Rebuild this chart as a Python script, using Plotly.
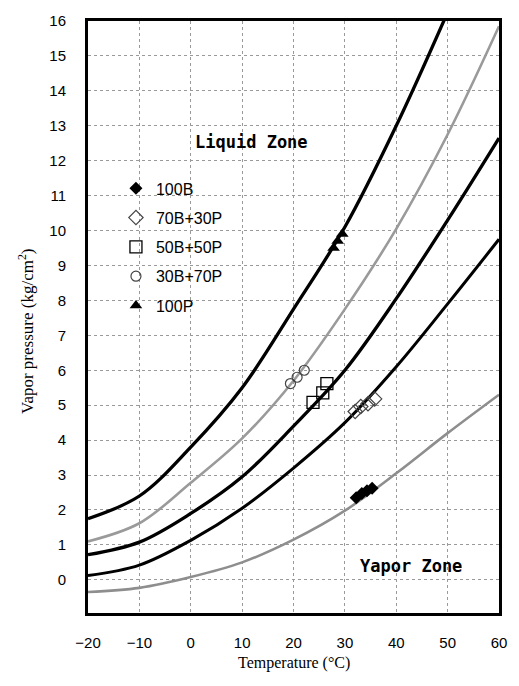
import plotly.graph_objects as go

# ---- data ----
temps = [-20, -10, 0, 10, 20, 30, 40, 50, 60]
p_100P = [1.75, 2.4, 3.8, 5.5, 7.75, 10.1, 13.0, 16.25, None]
p_30B70P = [1.1, 1.62, 2.78, 4.05, 5.7, 7.75, 10.05, 12.75, 15.85]
p_50B50P = [0.72, 1.08, 1.9, 2.95, 4.4, 6.0, 8.05, 10.3, 12.65]
p_70B30P = [0.12, 0.42, 1.13, 2.05, 3.2, 4.5, 6.1, 7.9, 9.75]
p_100B = [-0.35, -0.23, 0.08, 0.5, 1.15, 1.98, 3.05, 4.2, 5.3]

m100B_x = [32.2, 33.3, 34.3, 35.3]
m100B_y = [2.35, 2.47, 2.55, 2.62]
m70B_x = [32.0, 33.1, 34.5, 35.8]
m70B_y = [4.82, 4.96, 5.04, 5.18]
m50B_x = [23.8, 25.7, 26.5]
m50B_y = [5.08, 5.35, 5.62]
m30B_x = [19.4, 20.7, 22.1]
m30B_y = [5.62, 5.8, 6.0]
m100P_x = [27.8, 28.6, 29.5]
m100P_y = [9.5, 9.7, 9.9]

legend_names = ["100B", "70B+30P", "50B+50P", "30B+70P", "100P"]

fig = go.Figure()

curves = [
    (p_100P, "black", 3.3),
    (p_30B70P, "#9a9a9a", 2.6),
    (p_50B50P, "black", 3.3),
    (p_70B30P, "black", 3.0),
    (p_100B, "#8e8e8e", 2.6),
]
for ys, col, w in curves:
    fig.add_trace(go.Scatter(x=temps, y=ys, mode="lines",
                             line=dict(color=col, width=w, shape="spline", smoothing=1.0),
                             showlegend=False, hoverinfo="skip"))

markers = [
    (m100B_x, m100B_y, dict(symbol="diamond", size=10, color="black")),
    (m70B_x, m70B_y, dict(symbol="diamond-open", size=11, color="#444", line=dict(width=1.2))),
    (m50B_x, m50B_y, dict(symbol="square-open", size=12, color="black", line=dict(width=1.3))),
    (m30B_x, m30B_y, dict(symbol="circle-open", size=10, color="#444", line=dict(width=1.2))),
    (m100P_x, m100P_y, dict(symbol="triangle-up", size=11, color="black")),
]
for i, ((mx, my, mk), name) in enumerate(zip(markers, legend_names)):
    fig.add_trace(go.Scatter(x=mx, y=my, mode="markers", marker=mk, name=name,
                             legendgroup=f"g{i}"))

fig.add_annotation(x=11.9, y=12.55, text="<b>Liquid Zone</b>", showarrow=False,
                   font=dict(family="DejaVu Sans Mono", size=17, color="black"))
fig.add_annotation(x=42.8, y=0.4, text="<b>Yapor Zone</b>", showarrow=False,
                   font=dict(family="DejaVu Sans Mono", size=17, color="black"))

# axis titles
fig.add_annotation(xref="paper", yref="paper", x=0.5, y=0, yshift=-50,
                   xanchor="center", yanchor="middle",
                   text="Temperature (°C)", showarrow=False,
                   font=dict(family="Liberation Serif", size=16, color="black"))
fig.add_annotation(xref="paper", yref="paper", x=0, y=0.5, xshift=-62, yshift=-14,
                   xanchor="center", yanchor="middle",
                   text="Vapor pressure (kg/cm<sup>2</sup>)", showarrow=False, textangle=-90,
                   font=dict(family="Liberation Serif", size=17, color="black"))

axis_common = dict(showline=True, linewidth=3, linecolor="black", mirror=True,
                   showgrid=True, gridcolor="#9a9a9a", griddash="dot", gridwidth=1,
                   zeroline=False, ticks="",
                   tickfont=dict(family="Liberation Sans", size=15, color="black"))

fig.update_xaxes(range=[-20, 60], dtick=10, tick0=-20, ticklabelstandoff=14, **axis_common)
fig.update_yaxes(range=[-0.95, 16], dtick=1, tick0=0, ticklabelstandoff=16, **axis_common)

fig.update_layout(
    width=519, height=686,
    margin=dict(l=88, r=17, t=15, b=73),
    plot_bgcolor="white", paper_bgcolor="white",
    showlegend=True,
    legend=dict(x=0.068, y=0.746, xanchor="left", yanchor="top",
                bgcolor="rgba(0,0,0,0)", tracegroupgap=5.5, itemwidth=30,
                font=dict(family="Liberation Sans", size=16, color="black")),
)

fig.write_html("out.html")
